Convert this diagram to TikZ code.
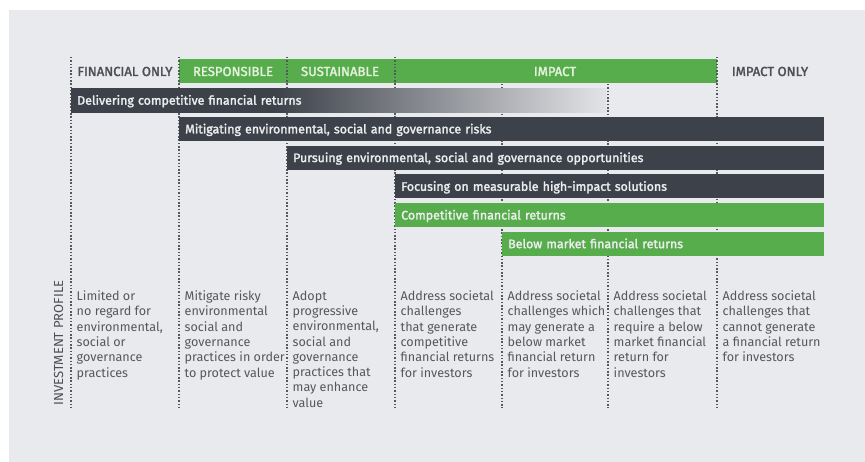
\documentclass[tikz,border=0pt]{standalone}
\usepackage{fontspec}
\setmainfont{Fira Sans}
\newfontfamily\semifont{Fira Sans}[FakeBold=2]
\usetikzlibrary{positioning}

\definecolor{pagebg}{HTML}{E9EAEE}
\definecolor{barblack}{HTML}{3D414A}
\definecolor{impactgreen}{HTML}{57AD4B}
\definecolor{dotgray}{HTML}{55585E}
\definecolor{bodygray}{HTML}{55575B}
\definecolor{headgray}{HTML}{4C4F55}
\definecolor{headlight}{HTML}{E4F2DE}
\definecolor{bartext}{HTML}{ECEDEF}
\definecolor{fadeend}{HTML}{E3E4E7}

\pgfdeclarehorizontalshading{returnsfade}{100bp}{color(0bp)=(barblack); color(25bp)=(barblack); color(44bp)=(barblack); color(75bp)=(fadeend); color(100bp)=(fadeend)}

\tikzstyle{colrule} = [draw=dotgray, line width=1.6pt, dash pattern=on 1.5pt off 1.8pt]
\tikzstyle{headlabel} = [anchor=base, inner sep=0pt, font=\semifont\fontsize{13.1}{15}\selectfont]
\tikzstyle{riskbar} = [fill=barblack, text=bartext, anchor=north west,
    minimum height=24pt, inner xsep=6pt, inner ysep=0pt, text height=10.5pt, text depth=1.5pt,
    align=left, font=\semifont\fontsize{12.4}{14}\selectfont]
\tikzstyle{returnbar} = [riskbar, fill=impactgreen]
\tikzstyle{profiletext} = [anchor=north west, inner sep=0pt, align=left, text=bodygray,
    font=\fontsize{12.6}{15.3}\selectfont]

\begin{document}
\begin{tikzpicture}[x=1pt, y=-1pt]
\useasboundingbox (0,0) rectangle (865,462);
\fill[white] (0,0) rectangle (865,462);
\fill[pagebg] (9,10) rectangle (865,462);

%------------ Header ---------------------
\node[fill=impactgreen, minimum width=538pt, minimum height=24pt, inner sep=0pt, anchor=north west] (greenhead) at (179,59) {};
\node[headlabel, text=headgray] (finonly) at (125,76) {FINANCIAL ONLY};
\node[headlabel, text=headlight] (respons) at (233,76) {RESPONSIBLE};
\node[headlabel, text=headlight] (sustain) at (340,76) {SUSTAINABLE};
\node[headlabel, text=headlight] (impact) at (555,76) {IMPACT};
\node[headlabel, text=headgray] (impactonly) at (770,76) {IMPACT ONLY};

%------------ Column rules ---------------------
\foreach \x in {71,179,287,395,717}
    \draw[colrule] (\x,57) -- (\x,408);
\foreach \x in {502,608}
    \draw[colrule] (\x,84) -- (\x,408);

%------------ Bars ---------------------
\node[riskbar, shading=returnsfade, text width=523pt] (deliver) at (71,88) {Delivering competitive financial returns};
\node[riskbar, text width=633pt] (mitigate) at (179,116.7) {Mitigating environmental, social and governance risks};
\node[riskbar, text width=525pt] (pursue) at (287,145.4) {Pursuing environmental, social and governance opportunities};
\node[riskbar, text width=417pt] (focus) at (395,174.1) {Focusing on measurable high-impact solutions};
\node[returnbar, text width=417pt] (competitive) at (395,202.8) {Competitive financial returns};
\node[returnbar, text width=310pt] (belowmarket) at (502,231.5) {Below market financial returns};

%------------ Investment profile ---------------------
\node[rotate=90, inner sep=0pt, text=headgray, font=\fontsize{13.1}{15}\selectfont] (profile) at (58.5,343) {INVESTMENT PROFILE};
\node[profiletext] (limited) at (76.5,290.5) {Limited or\\no regard for\\environmental,\\social or\\governance\\practices};
\node[profiletext] (riskyprac) at (184.5,290.5) {Mitigate risky\\environmental\\social and\\governance\\practices in order\\to protect value};
\node[profiletext] (progressive) at (292.5,290.5) {Adopt\\progressive\\environmental,\\social and\\governance\\practices that\\may enhance\\value};
\node[profiletext] (generate) at (400.5,290.5) {Address societal\\challenges\\that generate\\competitive\\financial returns\\for investors};
\node[profiletext] (maygen) at (507.5,290.5) {Address societal\\challenges which\\may generate a\\below market\\financial return\\for investors};
\node[profiletext] (require) at (613.5,290.5) {Address societal\\challenges that\\require a below\\market financial\\return for\\investors};
\node[profiletext] (cannot) at (722.5,290.5) {Address societal\\challenges that\\cannot generate\\a financial return\\for investors};
\end{tikzpicture}
\end{document}
